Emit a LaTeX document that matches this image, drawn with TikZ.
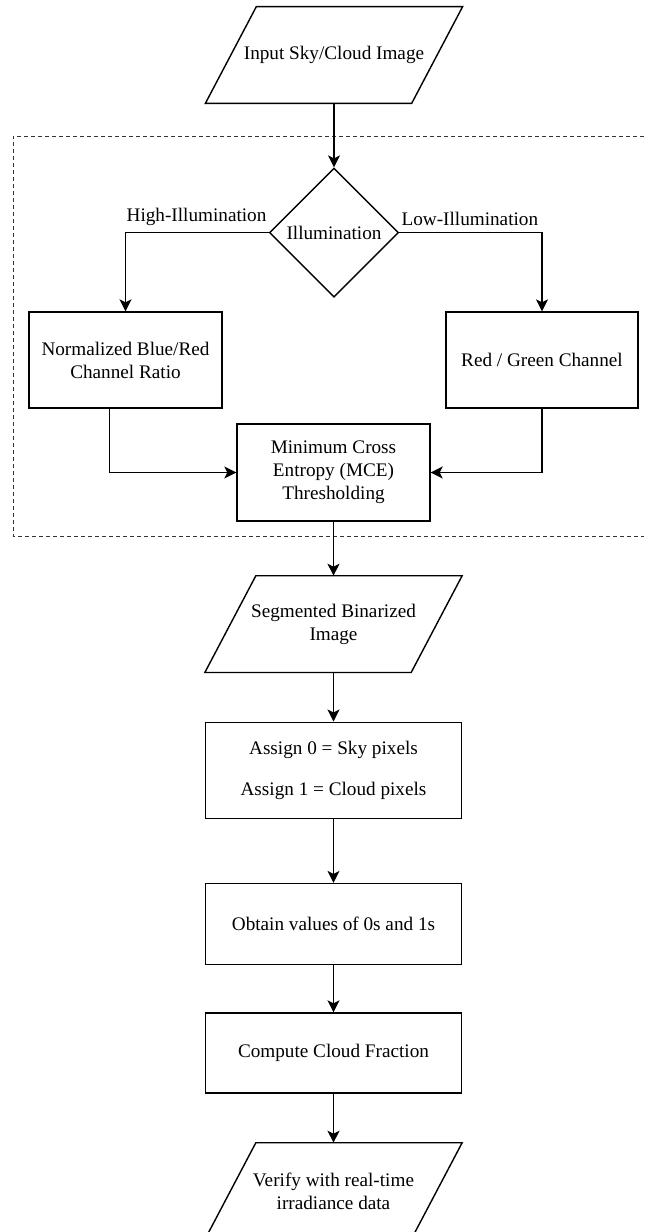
\documentclass[tikz,border=0pt]{standalone}
\usepackage{fontspec}
\setmainfont{Liberation Serif}
\usetikzlibrary{arrows.meta,positioning,shapes.geometric}

\begin{document}
\begin{tikzpicture}[
  x=1pt, y=1pt,
  font=\fontsize{9.6}{11.5}\selectfont,
  >={Stealth[length=6pt, width=6pt, inset=1.5pt]},
  box/.style   ={draw, line width=0.7pt, align=center, inner sep=3pt, minimum height=48pt},
  io/.style    ={align=center, inner sep=2pt, minimum width=102.75pt, minimum height=48pt,
                 append after command={\pgfextra{\draw[line width=0.7pt, line join=miter]
                   ([xshift=12.75pt]\tikzlastnode.north west) -- ([xshift=12.75pt]\tikzlastnode.north east)
                   -- ([xshift=-12.75pt]\tikzlastnode.south east) -- ([xshift=-12.75pt]\tikzlastnode.south west)
                   -- cycle;}}},
  dec/.style   ={draw, line width=0.7pt, diamond, aspect=1, align=center, inner sep=1pt, minimum size=64.5pt},
  lnk/.style   ={->, line width=0.6pt},
  lbl/.style   ={inner xsep=1pt, inner ysep=3.3pt},
  frame/.style ={draw, dashed, dash pattern=on 2pt off 1.5pt, line width=0.5pt, black!80},
]
\useasboundingbox (0,0) rectangle (322,-616);

%% ---------------- input ----------------
\node[io] (in) at (167,-27.5) {Input Sky/Cloud Image};

%% ---------------- illumination split ----------------
\node[dec, below=32pt of in] (ill) {Illumination};

\node[box, minimum width=96.5pt] (nbr) at (62.75,-180) {Normalized Blue/Red\\ Channel Ratio};
\node[box, minimum width=96pt] (rg) at (271,-180) {Red / Green Channel};

\node[box, minimum width=96.5pt, minimum height=48.5pt] (mce) at (166.75,-236.25)
  {Minimum Cross\\ Entropy (MCE)\\ Thresholding};

\node[lbl, anchor=south east] (hi) at (ill.west) {High-Illumination};
\node[lbl, anchor=south west] (lo) at (ill.east) {Low-Illumination};

\draw[frame] (322,-68) -| (6.5,-268) -- (322,-268);

\draw[lnk] (in) -- (ill);
\draw[lnk] (ill.west) -| (nbr.north);
\draw[lnk] (ill.east) -| (rg.north);
\draw[lnk] ([xshift=-8pt]nbr.south) |- (mce.west);
\draw[lnk] (rg.south) |- (mce.east);

%% ---------------- cloud fraction chain ----------------
\node[io, below=27pt of mce] (seg) {Segmented Binarized\\ Image};
\node[box, below=24.5pt of seg, minimum width=128pt] (asg)
  {Assign 0 = Sky pixels\\[9pt] Assign 1 = Cloud pixels};
\node[box, below=32pt of asg, minimum width=128pt, minimum height=40.5pt] (obt) {Obtain values of 0s and 1s};
\node[box, below=23.5pt of obt, minimum width=128pt, minimum height=40pt] (cf) {Compute Cloud Fraction};
\node[io, below=24.5pt of cf] (ver) {Verify with real-time\\ irradiance data};

\draw[lnk] (mce) -- (seg);
\draw[lnk] (seg) -- (asg);
\draw[lnk] (asg) -- (obt);
\draw[lnk] (obt) -- (cf);
\draw[lnk] (cf) -- (ver);

\end{tikzpicture}
\end{document}
